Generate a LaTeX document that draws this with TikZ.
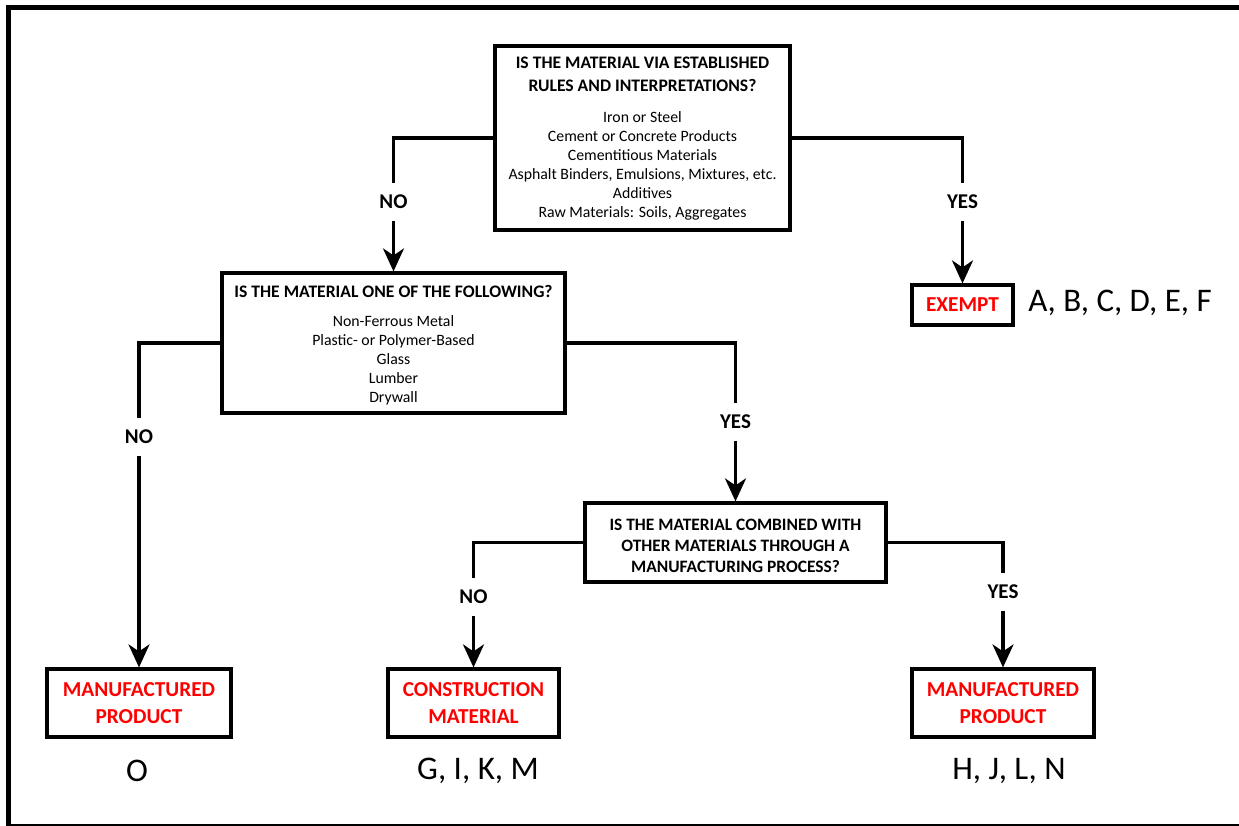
\documentclass[tikz,border=0pt]{standalone}
\usepackage{fontspec}
\setmainfont{Carlito}
\usetikzlibrary{arrows.meta}
\begin{document}
\begin{tikzpicture}[x=1pt,y=-1pt,
  qbox/.style={draw,line width=3.2pt,inner sep=0pt},
  head/.style={font=\bfseries\fontsize{17.6}{23}\selectfont,align=center,inner sep=0pt},
  body/.style={font=\fontsize{15.8}{19}\selectfont,align=center,inner sep=0pt},
  res/.style={draw,line width=3.2pt,text=red,font=\bfseries\fontsize{21.3}{27}\selectfont,align=center,inner sep=0pt},
  lbl/.style={fill=white,font=\bfseries\fontsize{21}{21}\selectfont,inner xsep=3pt,inner ysep=12pt,text height=13.5pt,text depth=0pt},
  code/.style={font=\fontsize{33}{33}\selectfont,inner sep=0pt},
  conn/.style={line width=3.2pt,-{Stealth[length=23pt,width=21pt,inset=7pt]}}]
\useasboundingbox (0,0) rectangle (1239,825);
\begin{scope}
\clip (0,0) rectangle (1239,825);
\draw[line width=5pt] (1250,7.5) -- (8.5,7.5) -- (8.5,826.5) -- (1250,826.5);
\end{scope}

% question boxes
\node[qbox,minimum width=295pt,minimum height=184pt] (q1) at (642.5,138) {};
\node[head] (q1h) at (642.5,74.5) {IS THE MATERIAL VIA ESTABLISHED\\RULES AND INTERPRETATIONS?};
\node[body] (q1b) at (642.5,165.5) {Iron or Steel\\Cement or Concrete Products\\Cementitious Materials\\Asphalt Binders, Emulsions, Mixtures, etc.\\Additives\\Raw Materials: Soils, Aggregates};

\node[qbox,minimum width=343pt,minimum height=140pt] (q2) at (393.5,343) {};
\node[head] (q2h) at (393.5,291) {IS THE MATERIAL ONE OF THE FOLLOWING?};
\node[body] (q2b) at (393.5,360.5) {Non-Ferrous Metal\\Plastic- or Polymer-Based\\Glass\\Lumber\\Drywall};

\node[qbox,minimum width=301pt,minimum height=79pt] (q3) at (735.5,542.5) {};
\node[head,font=\bfseries\fontsize{17.4}{21}\selectfont] (q3h) at (735.5,546) {IS THE MATERIAL COMBINED WITH\\OTHER MATERIALS THROUGH A\\MANUFACTURING PROCESS?};

% result boxes
\node[res,minimum width=101pt,minimum height=40pt] (ex) at (962.5,305) {EXEMPT};
\node[res,minimum width=184pt,minimum height=68pt] (mp1) at (139,703) {MANUFACTURED\\PRODUCT};
\node[res,minimum width=171pt,minimum height=68pt] (cm) at (473.5,703) {CONSTRUCTION\\MATERIAL};
\node[res,minimum width=182pt,minimum height=68pt] (mp2) at (1003,703) {MANUFACTURED\\PRODUCT};

% connectors
\draw[conn] (q1.west) -| (q2.north);
\draw[conn] (q1.east) -| (ex.north);
\draw[conn] (q2.west) -| (mp1.north);
\draw[conn] (q2.east) -| (q3.north);
\draw[conn] (q3.west) -| (cm.north);
\draw[conn] (q3.east) -| (mp2.north);

% branch labels
\node[lbl] (n1) at (393.5,202) {NO};
\node[lbl] (y1) at (962.5,202) {YES};
\node[lbl] (n2) at (139,437) {NO};
\node[lbl] (y2) at (735.5,422) {YES};
\node[lbl] (n3) at (473.5,597) {NO};
\node[lbl] (y3) at (1003,592) {YES};

% codes
\node[code] (cA) at (1120,303) {A, B, C, D, E, F};
\node[code] (cO) at (137,771) {O};
\node[code] (cG) at (478,771) {G, I, K, M};
\node[code] (cH) at (1009,771) {H, J, L, N};
\end{tikzpicture}
\end{document}
